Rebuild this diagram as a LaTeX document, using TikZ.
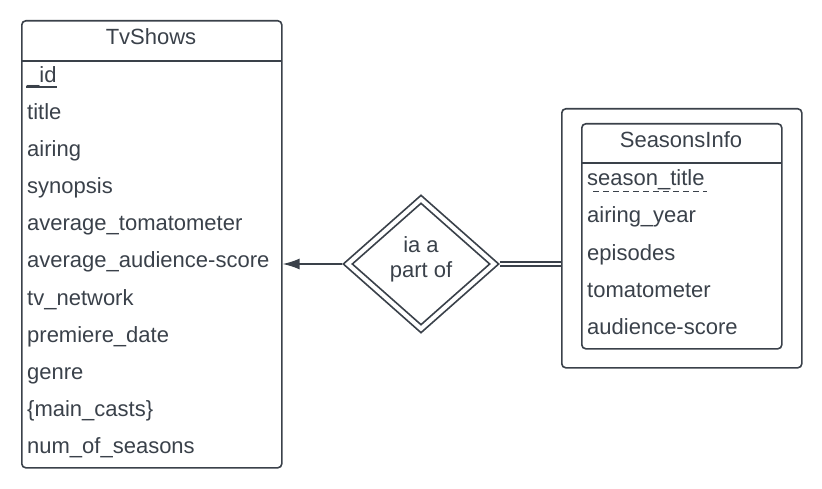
\documentclass[tikz,border=0pt]{standalone}
\usepackage{fontspec}
\setmainfont{Liberation Sans}
\usetikzlibrary{shapes.geometric,arrows.meta}
\definecolor{ink}{HTML}{3A414A}
\begin{document}
\begin{tikzpicture}[x=1pt,y=-1pt,
  box/.style={draw=ink,line width=1.6pt,rounded corners=4pt},
  attr/.style={anchor=base west,inner sep=0pt,text=ink,font=\fontsize{22}{24}\selectfont},
  head/.style={anchor=base,inner sep=0pt,text=ink,font=\fontsize{22}{24}\selectfont},
  rel/.style={diamond,draw=ink,line width=1.6pt,aspect=1.13,inner sep=0pt}]
\useasboundingbox (0,0) rectangle (822,489);
% TvShows
\node[box,minimum width=260pt,minimum height=447pt,anchor=north west] (tv) at (21,20) {};
\draw[ink,line width=1.6pt] (21,61) -- (281,61);
\node[head] (tvh) at (151,45) {TvShows};
\foreach \t [count=\i] in {{\_id},title,airing,synopsis,average\_tomatometer,average\_audience-score,tv\_network,premiere\_date,genre,{\{main\_casts\}},num\_of\_seasons}{
  \node[attr] (a\i) at (27,{83+(\i-1)*37}) {\t};
}
\draw[ink,line width=1.2pt] (26,87) -- (57,87);
% diamond
\node[rel,minimum width=156pt,minimum height=138pt] (d) at (421,264) {};
\node[rel,minimum width=138pt,minimum height=122pt] (di) at (421,264) {};
\node[head] (dt1) at (421,252) {ia a};
\node[head] (dt2) at (421,277) {part of};
% Seasons
\node[box,minimum width=240pt,minimum height=259pt,anchor=north west] (so) at (561,108) {};
\node[box,minimum width=200pt,minimum height=225pt,anchor=north west] (si) at (581,123) {};
\draw[ink,line width=1.6pt] (581,163) -- (781,163);
\node[head] (sh) at (681,148) {SeasonsInfo};
\foreach \t [count=\i] in {season\_title,airing\_year,episodes,tomatometer,audience-score}{
  \node[attr] (b\i) at (587,{186+(\i-1)*37}) {\t};
}
\draw[ink,line width=1pt,dash pattern=on 6pt off 4pt] (593,192) -- (707,192);
% connectors
\draw[ink,line width=1.6pt,-{Latex[length=17pt,width=11pt]}] (d.west) -- (tv.east |- d.west);
\draw[ink,line width=1.3pt,double distance=2.6pt] (d.east) -- (so.west |- d.east);
\end{tikzpicture}
\end{document}
